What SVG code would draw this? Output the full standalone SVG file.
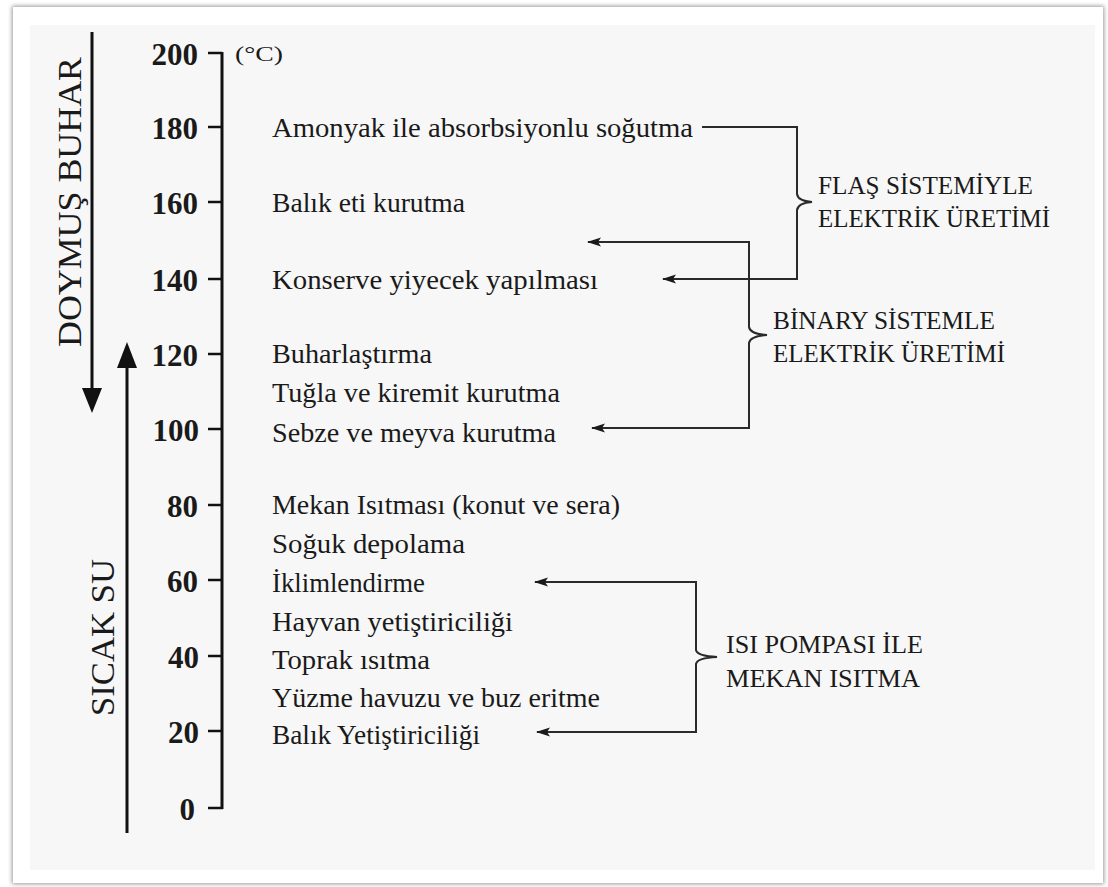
<svg xmlns="http://www.w3.org/2000/svg" width="1108" height="887" viewBox="0 0 1108 887">
<defs>
<filter id="sh" x="-5%" y="-5%" width="110%" height="110%"><feGaussianBlur stdDeviation="2"/></filter>
<marker id="ah" viewBox="0 0 14 10" refX="13" refY="5" markerWidth="14" markerHeight="10" markerUnits="userSpaceOnUse" orient="auto-start-reverse"><path d="M0,0.5 L14,5 L0,9.5 L3,5 z" fill="#1a1a1a"/></marker>
<style>
.item{font-family:"Liberation Serif","Times New Roman",serif;font-size:27px;fill:#1a1a1a}
.num{font-family:"Liberation Serif","Times New Roman",serif;font-size:31px;font-weight:bold;fill:#1a1a1a;text-anchor:end}
.grp{font-family:"Liberation Serif","Times New Roman",serif;font-size:26px;fill:#1a1a1a}
.side{font-family:"Liberation Serif","Times New Roman",serif;font-size:34px;fill:#1a1a1a}
.conn{fill:none;stroke:#2a2a2a;stroke-width:2}
.axis{stroke:#111;stroke-width:3;fill:none}
.tick{stroke:#111;stroke-width:2.5}
</style>
</defs>
<rect x="0" y="0" width="1108" height="887" fill="#ffffff"/>
<rect x="12" y="6" width="1092" height="878" fill="#9a9a9a" filter="url(#sh)"/>
<rect x="13" y="7" width="1090" height="876" fill="#ffffff"/>
<rect x="30" y="25" width="1065" height="845" fill="#f7f7f7"/>

<g id="side-arrows">
<g id="doymus-buhar">
<line x1="92" y1="32" x2="92" y2="392" class="axis"/>
<path d="M82,388 L102,388 L92,413 z" fill="#111"/>
<text class="side" transform="translate(81,347) rotate(-90)" textLength="290" lengthAdjust="spacingAndGlyphs">DOYMUŞ BUHAR</text>
</g>
<g id="sicak-su">
<line x1="127" y1="833" x2="127" y2="365" class="axis"/>
<path d="M117,368 L137,368 L127,342 z" fill="#111"/>
<text class="side" transform="translate(114,716) rotate(-90)" textLength="157" lengthAdjust="spacingAndGlyphs">SICAK SU</text>
</g>
</g>

<g id="axis">
<line x1="222" y1="52" x2="222" y2="809" class="axis"/>
<g class="tick">
<line x1="208" y1="53" x2="222" y2="53"/>
<line x1="208" y1="127" x2="222" y2="127"/>
<line x1="208" y1="202" x2="222" y2="202"/>
<line x1="208" y1="279" x2="222" y2="279"/>
<line x1="208" y1="354" x2="222" y2="354"/>
<line x1="208" y1="429" x2="222" y2="429"/>
<line x1="208" y1="505" x2="222" y2="505"/>
<line x1="208" y1="580" x2="222" y2="580"/>
<line x1="208" y1="656" x2="222" y2="656"/>
<line x1="208" y1="731" x2="222" y2="731"/>
<line x1="208" y1="808" x2="223" y2="808"/>
</g>
<text class="num" x="198" y="65">200</text>
<text class="num" x="198" y="139">180</text>
<text class="num" x="198" y="214">160</text>
<text class="num" x="198" y="291">140</text>
<text class="num" x="198" y="366">120</text>
<text class="num" x="199" y="441">100</text>
<text class="num" x="198" y="517">80</text>
<text class="num" x="198" y="592">60</text>
<text class="num" x="199" y="668">40</text>
<text class="num" x="199" y="743">20</text>
<text class="num" x="195" y="820">0</text>
<text x="235" y="61" font-family="Liberation Serif, serif" font-size="20" fill="#1a1a1a" textLength="48" lengthAdjust="spacingAndGlyphs">(°C)</text>
</g>

<g id="items">
<text id="amonyak" class="item" x="272" y="137" textLength="421" lengthAdjust="spacingAndGlyphs">Amonyak ile absorbsiyonlu soğutma</text>
<text id="balik-eti" class="item" x="272" y="212" textLength="193" lengthAdjust="spacingAndGlyphs">Balık eti kurutma</text>
<text id="konserve" class="item" x="272" y="289" textLength="326" lengthAdjust="spacingAndGlyphs">Konserve yiyecek yapılması</text>
<text id="buhar" class="item" x="272" y="363" textLength="160" lengthAdjust="spacingAndGlyphs">Buharlaştırma</text>
<text id="tugla" class="item" x="272" y="402" textLength="288" lengthAdjust="spacingAndGlyphs">Tuğla ve kiremit kurutma</text>
<text id="sebze" class="item" x="272" y="442" textLength="284" lengthAdjust="spacingAndGlyphs">Sebze ve meyva kurutma</text>
<text id="mekan" class="item" x="272" y="514" textLength="348" lengthAdjust="spacingAndGlyphs">Mekan Isıtması (konut ve sera)</text>
<text id="soguk" class="item" x="272" y="553" textLength="193" lengthAdjust="spacingAndGlyphs">Soğuk depolama</text>
<text id="iklim" class="item" x="272" y="592" textLength="153" lengthAdjust="spacingAndGlyphs">İklimlendirme</text>
<text id="hayvan" class="item" x="272" y="631" textLength="241" lengthAdjust="spacingAndGlyphs">Hayvan yetiştiriciliği</text>
<text id="toprak" class="item" x="272" y="669" textLength="158" lengthAdjust="spacingAndGlyphs">Toprak ısıtma</text>
<text id="yuzme" class="item" x="272" y="707" textLength="328" lengthAdjust="spacingAndGlyphs">Yüzme havuzu ve buz eritme</text>
<text id="balik-yet" class="item" x="272" y="744" textLength="208" lengthAdjust="spacingAndGlyphs">Balık Yetiştiriciliği</text>
</g>

<g id="groups">
<g id="flas">
<text class="grp" x="818" y="194" textLength="215" lengthAdjust="spacingAndGlyphs">FLAŞ SİSTEMİYLE</text>
<text class="grp" x="818" y="227" textLength="232" lengthAdjust="spacingAndGlyphs">ELEKTRİK ÜRETİMİ</text>
</g>
<g id="binary">
<text class="grp" x="773" y="329" textLength="222" lengthAdjust="spacingAndGlyphs">BİNARY SİSTEMLE</text>
<text class="grp" x="773" y="362" textLength="232" lengthAdjust="spacingAndGlyphs">ELEKTRİK ÜRETİMİ</text>
</g>
<g id="isi-pompasi">
<text class="grp" x="726" y="653" textLength="197" lengthAdjust="spacingAndGlyphs">ISI POMPASI İLE</text>
<text class="grp" x="726" y="687" textLength="194" lengthAdjust="spacingAndGlyphs">MEKAN ISITMA</text>
</g>
</g>

<g id="connectors">
<path class="conn" d="M702,127 H797 V194 Q798,201 812,202 Q798,203 797,210 V279 H663" marker-end="url(#ah)"/>
<path class="conn" d="M588,242 H749 V327 Q750,334 767,335 Q750,336 749,343 V428 H592" marker-start="url(#ah)" marker-end="url(#ah)"/>
<path class="conn" d="M535,582 H696 V650 Q697,656 717,657 Q697,658 696,664 V732 H537" marker-start="url(#ah)" marker-end="url(#ah)"/>
</g>
</svg>
